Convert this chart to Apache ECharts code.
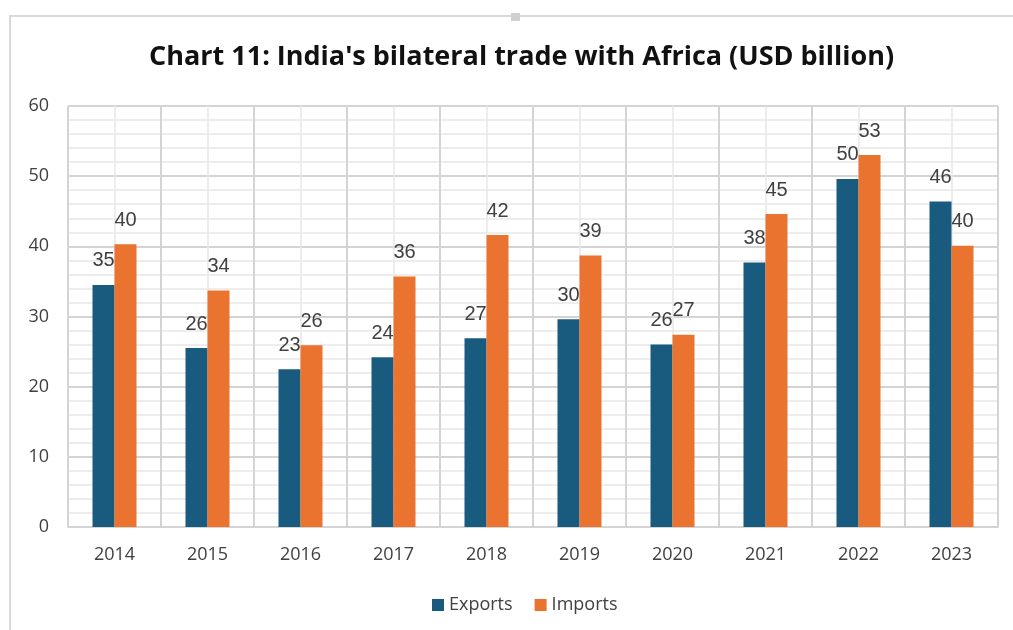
<!DOCTYPE html>
<html>
<head>
<meta charset="utf-8">
<script src="https://cdn.jsdelivr.net/npm/echarts@6/dist/echarts.min.js"></script>
<style>
  html, body { margin: 0; padding: 0; background: #ffffff; }
  #chart { width: 1013px; height: 630px; }
</style>
</head>
<body>
<div id="chart"></div>
<script>
// India's bilateral trade with Africa, USD billion
const years = ['2014', '2015', '2016', '2017', '2018', '2019', '2020', '2021', '2022', '2023'];
const exportsBn = [34.5, 25.5, 22.5, 24.2, 26.9, 29.6, 26.0, 37.7, 49.6, 46.4];
const importsBn = [40.3, 33.7, 25.9, 35.7, 41.6, 38.7, 27.4, 44.6, 53.0, 40.1];
const yTicks = [0, 10, 20, 30, 40, 50, 60];

const labelFont = 'Liberation Sans, Arial, sans-serif';
const uiFont = '"Open Sans", "Noto Sans", sans-serif';
const textGrey = '#404040';

const chart = echarts.init(document.getElementById('chart'), null, { renderer: 'canvas' });

const valueLabel = {
  show: true,
  position: 'top',
  distance: 14,
  fontFamily: labelFont,
  fontSize: 20,
  color: textGrey,
  formatter: p => Math.round(p.value)
};

chart.setOption({
  animation: false,
  backgroundColor: '#ffffff',
  title: {
    text: "Chart 11: India's bilateral trade with Africa (USD billion)",
    left: 144,
    top: 39,
    textStyle: { fontFamily: uiFont, fontWeight: 'bold', fontSize: 27, color: '#111111' }
  },
  legend: {
    bottom: 11,
    left: 427,
    itemWidth: 12,
    itemHeight: 12,
    itemGap: 22,
    icon: 'rect',
    textStyle: { fontFamily: uiFont, fontSize: 18, color: textGrey },
    data: ['Exports', 'Imports']
  },
  grid: { left: 68, right: 15, top: 106, bottom: 103 },
  xAxis: [
    {
      type: 'category',
      data: years,
      axisLine: { show: true, lineStyle: { color: '#d4d4d4', width: 2 } },
      axisTick: { show: false },
      axisLabel: { fontFamily: uiFont, fontSize: 18, color: textGrey, margin: 19 },
      splitLine: { show: false }
    },
    {
      // invisible helper axis: category borders and mid-lines of the grid
      type: 'value',
      position: 'top',
      min: 0,
      max: years.length,
      interval: 1,
      axisLine: { show: false },
      axisTick: { show: false },
      axisLabel: { show: false },
      splitLine: { show: true, lineStyle: { color: '#d4d4d4', width: 2 } },
      minorTick: { show: false, splitNumber: 2 },
      minorSplitLine: { show: true, lineStyle: { color: '#e8e8e8', width: 1.5 } }
    }
  ],
  yAxis: {
    type: 'value',
    min: yTicks[0],
    max: yTicks[yTicks.length - 1],
    interval: 10,
    axisLine: { show: false },
    axisTick: { show: false },
    axisLabel: { fontFamily: uiFont, fontSize: 18, color: textGrey, margin: 19 },
    splitLine: { show: true, lineStyle: { color: '#d4d4d4', width: 2 } },
    minorTick: { show: false, splitNumber: 5 },
    minorSplitLine: { show: true, lineStyle: { color: '#e8e8e8', width: 1.5 } }
  },
  series: [
    {
      name: 'Exports',
      type: 'bar',
      xAxisIndex: 0,
      data: exportsBn,
      barWidth: 22,
      barGap: '0%',
      itemStyle: { color: '#195b7e' },
      label: valueLabel
    },
    {
      name: 'Imports',
      type: 'bar',
      xAxisIndex: 0,
      data: importsBn,
      barWidth: 22,
      barGap: '0%',
      itemStyle: { color: '#ea7330' },
      label: valueLabel
    }
  ],
  graphic: [
    {
      type: 'rect',
      shape: { x: 10, y: 16, width: 1010, height: 630 },
      style: { fill: 'none', stroke: '#d9d9d9', lineWidth: 2 },
      silent: true
    },
    {
      type: 'rect',
      shape: { x: 511, y: 13, width: 9, height: 8 },
      style: { fill: '#d0d0d0' },
      silent: true
    }
  ]
});
</script>
</body>
</html>
